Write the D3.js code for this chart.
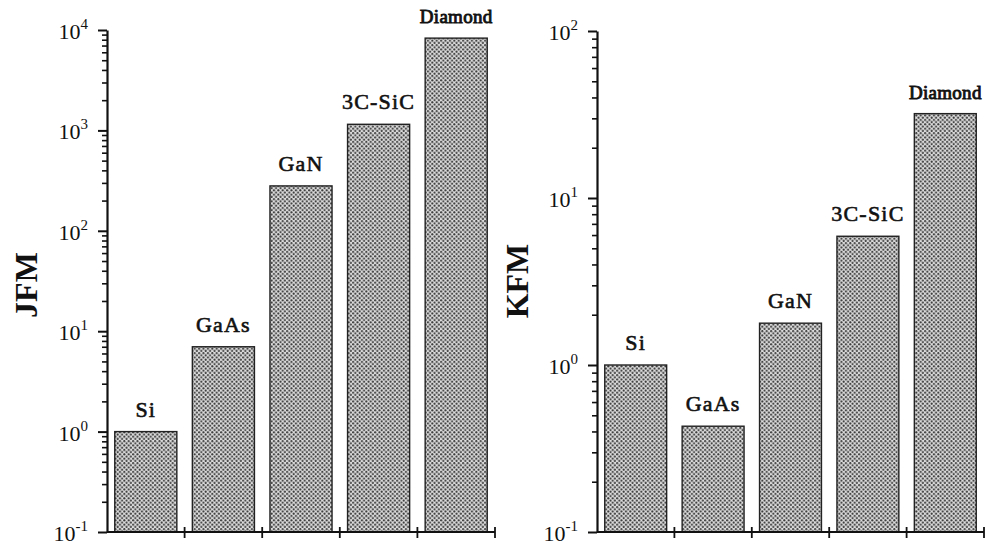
<!DOCTYPE html>
<html>
<head>
<meta charset="utf-8">
<script src="https://cdn.jsdelivr.net/npm/d3@7"></script>
<style>
  html, body { margin: 0; padding: 0; background: #fff; }
  svg { display: block; }
</style>
</head>
<body>
<svg id="chart" width="987" height="546"></svg>
<script>
// Materials compared in both panels
const materials = ["Si", "GaAs", "GaN", "3C-SiC", "Diamond"];
// Johnson figure of merit (normalised to Si)
const jfmValues = [1, 7, 280, 1150, 8300];
// Keyes figure of merit (normalised to Si)
const kfmValues = [1, 0.43, 1.78, 5.9, 32];
// Decade tick exponents for each log axis
const jfmExponents = [-1, 0, 1, 2, 3, 4];
const kfmExponents = [-1, 0, 1, 2];

const SERIF = "'Liberation Serif', 'Times New Roman', Times, serif";

const svg = d3.select("#chart").attr("font-family", SERIF);

// Stippled fill used for every bar
const defs = svg.append("defs");
const pat = defs.append("pattern")
  .attr("id", "stipple")
  .attr("patternUnits", "userSpaceOnUse")
  .attr("width", 4.4).attr("height", 4.4);
pat.append("rect").attr("width", 4.4).attr("height", 4.4).attr("fill", "#dcdcdc");
pat.append("circle").attr("cx", 1.1).attr("cy", 1.1).attr("r", 1.05).attr("fill", "#3a3a3a");
pat.append("circle").attr("cx", 3.3).attr("cy", 3.3).attr("r", 1.05).attr("fill", "#3a3a3a");

function panel(cfg) {
  const g = svg.append("g");
  const x = d3.scaleBand()
    .domain(materials)
    .range([cfg.x0, cfg.x1])
    .paddingInner(0.2)
    .paddingOuter(0.1);
  const y = d3.scaleLog()
    .domain([Math.pow(10, cfg.exps[0]), Math.pow(10, cfg.exps[cfg.exps.length - 1])])
    .range([cfg.yBottom, cfg.yTop]);

  // bars
  g.selectAll("rect.bar")
    .data(materials)
    .join("rect")
    .attr("class", "bar")
    .attr("x", d => x(d))
    .attr("width", x.bandwidth())
    .attr("y", (d, i) => y(cfg.values[i]))
    .attr("height", (d, i) => y.range()[0] - y(cfg.values[i]))
    .attr("fill", "url(#stipple)")
    .attr("stroke", "#222")
    .attr("stroke-width", 1.4);

  // bar labels (regular serif face, thickened with a thin outline)
  g.selectAll("text.lbl")
    .data(materials)
    .join("text")
    .attr("class", "lbl")
    .attr("x", d => x(d) + x.bandwidth() / 2)
    .attr("y", (d, i) => y(cfg.values[i]) - 15)
    .attr("text-anchor", "middle")
    .attr("font-family", SERIF)
    .attr("font-size", d => d === "Diamond" ? 19 : 22)
    .attr("letter-spacing", d => d === "Diamond" ? 0.3 : 1.2)
    .attr("fill", "#111")
    .attr("stroke", "#111")
    .attr("stroke-width", d => d === "Diamond" ? 0.9 : 0.6)
    .text(d => d);

  // minor ticks (2..9 in each decade)
  const minors = [];
  for (let k = 0; k < cfg.exps.length - 1; k++) {
    for (let m = 2; m <= 9; m++) minors.push(m * Math.pow(10, cfg.exps[k]));
  }
  const minorAxis = d3.axisLeft(y).tickValues(minors).tickSize(5).tickFormat("");
  const gMinor = g.append("g").attr("transform", `translate(${cfg.x0},0)`).call(minorAxis);
  gMinor.select(".domain").remove();
  gMinor.selectAll("line").attr("stroke", "#111").attr("stroke-width", 1.6);

  // major ticks and y-axis line
  const majors = cfg.exps.map(e => Math.pow(10, e));
  const majorAxis = d3.axisLeft(y).tickValues(majors).tickSize(9).tickSizeOuter(0).tickFormat("");
  const gMajor = g.append("g").attr("transform", `translate(${cfg.x0},0)`).call(majorAxis);
  gMajor.select(".domain").attr("stroke", "#111").attr("stroke-width", 2.2);
  gMajor.selectAll("line").attr("stroke", "#111").attr("stroke-width", 2);

  // tick labels as 10 with a superscript exponent
  const lab = g.selectAll("text.tick10")
    .data(cfg.exps)
    .join("text")
    .attr("class", "tick10")
    .attr("x", cfg.x0 - 19)
    .attr("y", e => y(Math.pow(10, e)) + 9)
    .attr("text-anchor", "end")
    .attr("font-family", SERIF)
    .attr("font-size", 22)
    .attr("fill", "#111");
  lab.append("tspan").text("10");
  lab.append("tspan")
    .attr("font-size", 15)
    .attr("dy", -10)
    .text(e => String(e));

  // x-axis line with separator ticks between bars
  const yb = y.range()[0];
  g.append("line")
    .attr("x1", cfg.x0).attr("x2", cfg.x1)
    .attr("y1", yb).attr("y2", yb)
    .attr("stroke", "#111").attr("stroke-width", 2.2);
  const edges = materials.map(d => x(d) + x.bandwidth() + x.step() * x.paddingInner() / 2);
  edges[edges.length - 1] = cfg.x1;
  g.selectAll("line.sep")
    .data(edges)
    .join("line")
    .attr("class", "sep")
    .attr("x1", d => d).attr("x2", d => d)
    .attr("y1", yb - 5).attr("y2", yb + 6)
    .attr("stroke", "#111").attr("stroke-width", 1.8);

  // axis title
  g.append("text")
    .attr("transform", `translate(${cfg.titleX},${cfg.titleY}) rotate(-90)`)
    .attr("text-anchor", "middle")
    .attr("font-family", SERIF)
    .attr("font-weight", "bold")
    .attr("font-size", 32)
    .attr("fill", "#111")
    .text(cfg.title);
}

panel({ values: jfmValues, exps: jfmExponents, x0: 107, x1: 495, yTop: 30, yBottom: 532,
        title: "JFM", titleX: 37, titleY: 285 });
panel({ values: kfmValues, exps: kfmExponents, x0: 597, x1: 984, yTop: 31, yBottom: 532,
        title: "KFM", titleX: 528, titleY: 281 });
</script>
</body>
</html>
